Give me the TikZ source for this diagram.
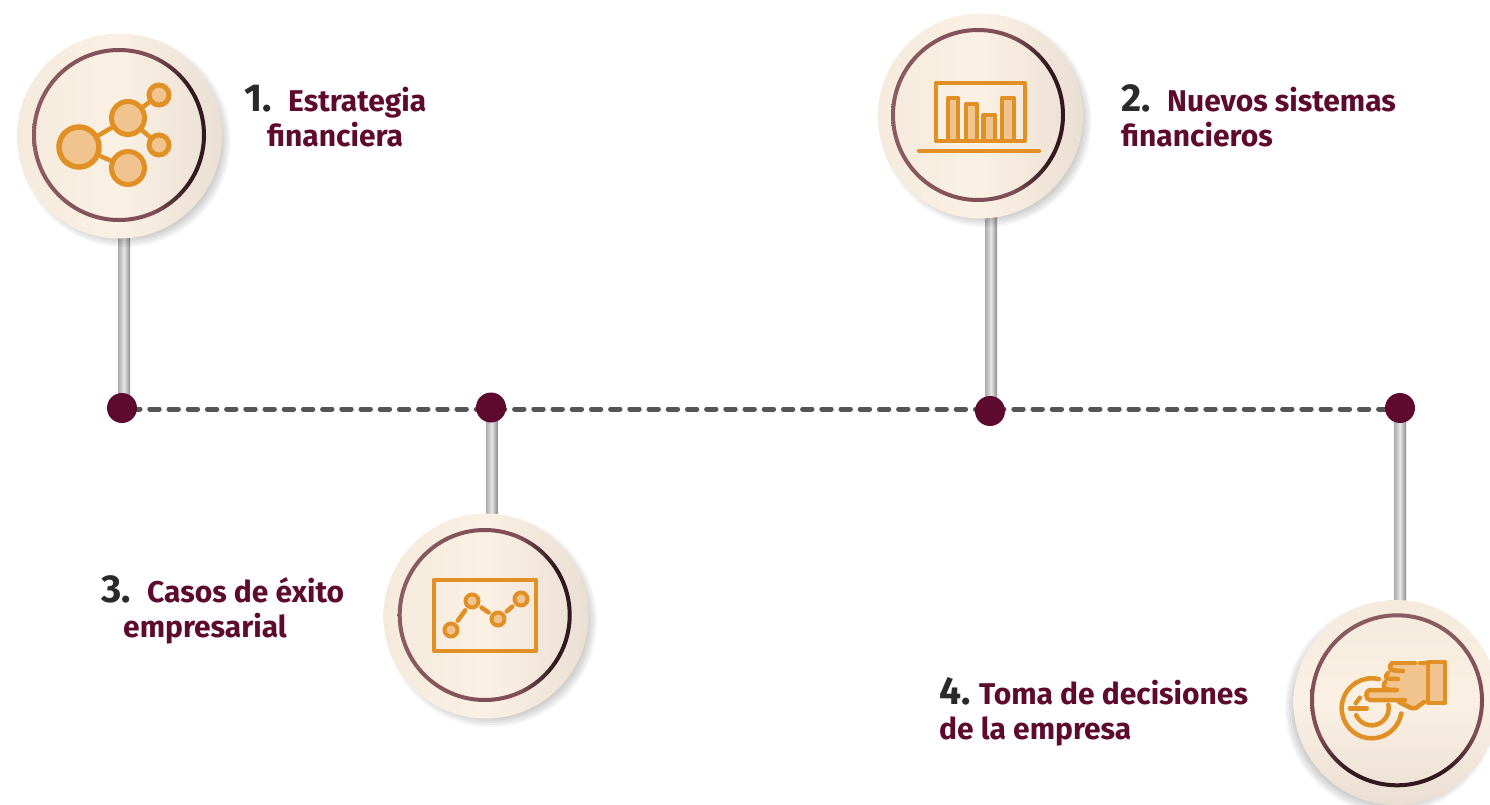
\documentclass[tikz,border=0pt]{standalone}
\usepackage{fontspec}
\setmainfont{Fira Sans}
\usetikzlibrary{calc}
\definecolor{ico}{HTML}{E09024}
\definecolor{icofill}{HTML}{F1C48F}
\definecolor{wine}{HTML}{5E0A2E}
\definecolor{numcol}{HTML}{2A2A2A}
\definecolor{dashcol}{HTML}{555555}
\definecolor{ringa}{HTML}{8C5C63}
\definecolor{ringb}{HTML}{7F4E56}
\definecolor{ringc}{HTML}{33191F}
\definecolor{diska}{HTML}{F5EBDD}
\definecolor{diskb}{HTML}{FAF0E3}
\definecolor{diskc}{HTML}{EADFD2}
\newcommand{\numf}{\fontsize{39}{36}\selectfont\bfseries\color{numcol}}
\newcommand{\labf}{\fontsize{30}{35}\selectfont\bfseries\color{wine}}
\newcommand{\lbl}[3]{\makebox[#1pt][l]{\numf #2}#3}
\pgfdeclarehorizontalshading{ringhshade}{100bp}{color(0bp)=(ringa); color(25bp)=(ringa); color(50bp)=(ringb); color(60bp)=(ringb); color(70bp)=(ringc); color(100bp)=(ringc)}
\pgfdeclareverticalshading{ringvshade}{100bp}{color(0bp)=(ringc); color(30bp)=(ringc); color(40bp)=(ringb); color(50bp)=(ringb); color(75bp)=(ringa); color(100bp)=(ringa)}
\tikzset{
  dotnode/.style={circle,fill=wine,minimum size=30pt,inner sep=0pt},
  diskh/.style={circle,minimum size=205pt,inner sep=0pt,left color=diska,right color=diskc,middle color=diskb},
  diskv/.style={circle,minimum size=205pt,inner sep=0pt,top color=diska,bottom color=diskc,middle color=diskb},
  ringh/.style={even odd rule,shading=ringhshade},
  ringv/.style={even odd rule,shading=ringvshade},
  pinbar/.style={left color=black!33,right color=black!45,middle color=black!10},
  dashline/.style={draw=dashcol,line width=5pt,line cap=round,dash pattern=on 9.4pt off 9.8pt,dash phase=10.6pt},
  caption/.style={anchor=base west,inner sep=0pt,align=left,font=\fontsize{30}{35}\selectfont},
  icoline/.style={draw=ico,line width=4.5pt,line cap=round,line join=round},
  icoshape/.style={draw=ico,fill=icofill,line width=4.5pt,line join=round},
  bignode/.style={circle,draw=ico,fill=icofill,line width=5.5pt,inner sep=0pt,minimum size=40pt},
  midnode/.style={circle,draw=ico,fill=icofill,line width=5pt,inner sep=0pt,minimum size=33pt},
  smallnode/.style={circle,draw=ico,fill=icofill,line width=5pt,inner sep=0pt,minimum size=20pt},
  chartnode/.style={circle,draw=ico,fill=icofill,line width=4pt,inner sep=0pt,minimum size=13pt},
}
\newcommand{\softshadow}[2]{%
  \foreach \r in {92,94,...,106}{\fill[black,opacity=0.04] ($(#1)+(#2)$) circle (\r pt);}%
}
\begin{document}
\begin{tikzpicture}[x=1pt,y=-1pt]
\useasboundingbox (0,0) rectangle (1490,805);
\path (122,409) coordinate (d1) (1400,409) coordinate (d4);
\draw[dashline] (d1) -- (d4);
\path (119.5,136) coordinate (c1pos) (980.5,116) coordinate (c2pos) (486,616) coordinate (c3pos) (1396,702.5) coordinate (c4pos);
\shade[pinbar] (118,136) rectangle (130,400);
\shade[pinbar] (985,116) rectangle (997,400);
\shade[pinbar] (486,410) rectangle (497.5,616);
\shade[pinbar] (1394,410) rectangle (1406,702);
\node[dotnode] (n1) at (122,408) {};
\node[dotnode] (n2) at (491,407.5) {};
\node[dotnode] (n3) at (990,411) {};
\node[dotnode] (n4) at (1400,408) {};
\softshadow{c1pos}{5,5}
\softshadow{c2pos}{5,5}
\softshadow{c3pos}{5,5}
\softshadow{c4pos}{-5,5}
\node[diskh] (c1) at (c1pos) {};
\node[diskh] (c2) at (c2pos) {};
\node[diskh] (c3) at (c3pos) {};
\node[diskv] (c4) at (c4pos) {};
\path[ringh] (119,135) circle (87pt) circle (83pt);
\path[ringh] (978,115) circle (87pt) circle (83pt);
\path[ringh] (484.7,615) circle (87pt) circle (83pt);
\path[ringv] (1397,700.3) circle (87pt) circle (83pt);
% icon 1
\node[bignode] (a1) at (79,147) {};
\node[midnode] (a2) at (128,118) {};
\node[midnode] (a3) at (128,168) {};
\node[smallnode] (a4) at (159,95) {};
\node[smallnode] (a5) at (159,145) {};
\draw[icoline] (a1) -- (a2);
\draw[icoline] (a1) -- (a3);
\draw[icoline] (a2) -- (a4);
\draw[icoline] (a2) -- (a5);
% icon 2
\draw[icoline] (936,83) rectangle (1025,141);
\draw[icoshape] (948,98) rectangle (958,141);
\draw[icoshape] (966,104) rectangle (977,141);
\draw[icoshape] (983.5,115) rectangle (995,141);
\draw[icoshape] (1002,98) rectangle (1014,141);
\draw[icoline] (919,151) -- (1039,151);
% icon 3
\draw[icoline] (434,580) rectangle (536,651);
\node[chartnode] (b1) at (451,630) {};
\node[chartnode] (b2) at (472,601) {};
\node[chartnode] (b3) at (498,619) {};
\node[chartnode] (b4) at (521,599) {};
\draw[icoline,shorten <=3pt,shorten >=3pt] (b1) -- (b2);
\draw[icoline,shorten <=3pt,shorten >=3pt] (b2) -- (b3);
\draw[icoline,shorten <=3pt,shorten >=3pt] (b3) -- (b4);
% icon 4
\path (1371.7,708.3) coordinate (h);
\draw[icoline] ($(h)+(-76:30)$) arc[start angle=-76,end angle=-350,radius=30];
\draw[icoline] ($(h)+(-12:17)$) arc[start angle=-12,end angle=156,radius=17];
\draw[icoline] (1355.6,703.3) -- (1360,697.7);
\draw[icoline] (1350,708.3) -- (1366.7,708.3);
\fill[icofill] (1392,663) -- (1428,663) -- (1428,701) -- (1424,702) -- (1415,708) -- (1407,707) -- (1398,700) -- (1370,700) -- (1367,695) -- (1370,690) -- (1384,690) -- (1384,680) -- (1388,671) -- cycle;
\draw[icoline] (1392,663) -- (1415,663);
\draw[icoline] (1420,663) -- (1428,663);
\draw[icoline] (1392,663) .. controls (1388,668) and (1388,671) .. (1403,671);
\draw[icoline] (1388,673) .. controls (1384,678) and (1385,679) .. (1398,679);
\draw[icoline] (1385,682) .. controls (1382,688) and (1384,690) .. (1395,690);
\draw[icoline] (1397,690) -- (1370,690) .. controls (1365,690) and (1365,700) .. (1370,700) -- (1405,700);
\draw[icoline] (1399,702) -- (1411,708) -- (1416,708) -- (1424,702);
\draw[icoshape] (1428,662) rectangle (1445,703);
% captions
\node[caption] (t1) at (244,146.5) {\lbl{44}{1.}{\labf Estrategia}\\\hspace*{23pt}{\labf financiera}};
\node[caption] (t2) at (1121,146.5) {\lbl{46}{2.}{\labf Nuevos sistemas}\\{\labf financieros}};
\node[caption] (t3) at (101,637.5) {\lbl{46}{3.}{\labf Casos de éxito}\\\hspace*{22pt}{\labf empresarial}};
\node[caption] (t4) at (939,739) {\lbl{40}{4.}{\labf Toma de decisiones}\\{\labf de la empresa}};
\end{tikzpicture}
\end{document}
